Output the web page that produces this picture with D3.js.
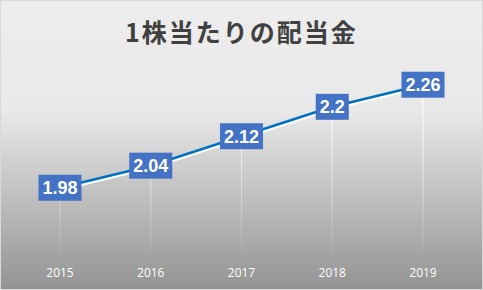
<!DOCTYPE html>
<html>
<head>
<meta charset="utf-8">
<script src="https://cdn.jsdelivr.net/npm/d3@7"></script>
<style>
  html, body { margin: 0; padding: 0; background: #fff; }
  svg { display: block; }
</style>
</head>
<body>
<div id="chart"></div>
<script>
const WIDTH = 483;
const HEIGHT = 290;

// chart data
const years = ["2015", "2016", "2017", "2018", "2019"];
const dividends = [1.98, 2.04, 2.12, 2.2, 2.26];
const labels = ["1.98", "2.04", "2.12", "2.2", "2.26"];
const title = "1株当たりの配当金";

let svg = d3
  .select("#chart")
  .append("svg")
  .attr("width", WIDTH)
  .attr("height", HEIGHT);

let defs = svg.append("defs");

//background gradient
let bg = defs
  .append("linearGradient")
  .attr("id", "bgGrad")
  .attr("x1", 0).attr("y1", 0).attr("x2", 0).attr("y2", 1);
bg.append("stop").attr("offset", "0%").attr("stop-color", "#ededed");
bg.append("stop").attr("offset", "38%").attr("stop-color", "#e9e9e9");
bg.append("stop").attr("offset", "100%").attr("stop-color", "#939393");

//drop line gradient (fades toward bottom)
let dl = defs
  .append("linearGradient")
  .attr("id", "dropGrad")
  .attr("gradientUnits", "userSpaceOnUse")
  .attr("x1", 0).attr("y1", 80).attr("x2", 0).attr("y2", 254);
dl.append("stop").attr("offset", "0%").attr("stop-color", "#ffffff").attr("stop-opacity", 0.95);
dl.append("stop").attr("offset", "100%").attr("stop-color", "#ffffff").attr("stop-opacity", 0.05);

svg
  .append("rect")
  .attr("x", 0.5)
  .attr("y", 0.5)
  .attr("width", WIDTH - 1)
  .attr("height", HEIGHT - 1)
  .attr("fill", "url(#bgGrad)")
  .attr("stroke", "#d9d9d9");

//title
svg
  .append("text")
  .attr("x", WIDTH / 2)
  .attr("y", 42)
  .attr("text-anchor", "middle")
  .attr("fill", "#404040")
  .style("font-family", "'Noto Sans CJK JP', sans-serif")
  .style("font-weight", "bold")
  .style("font-size", "25px")
  .style("letter-spacing", "2px")
  .text(title);

//scales
const x = d3.scalePoint().domain(years).range([60, 423]);
const y = d3.scaleLinear().domain([1.8, 2.3]).range([254, 70]);

const data = years.map((yr, i) => ({ year: yr, value: dividends[i], label: labels[i] }));

//drop lines
svg
  .append("g")
  .selectAll("line")
  .data(data)
  .enter()
  .append("line")
  .attr("x1", (d) => x(d.year))
  .attr("x2", (d) => x(d.year))
  .attr("y1", (d) => y(d.value))
  .attr("y2", 254)
  .attr("stroke", "url(#dropGrad)")
  .attr("stroke-width", 1.2);

//line with white shadow
const line = d3
  .line()
  .x((d) => x(d.year))
  .y((d) => y(d.value));

svg
  .append("path")
  .datum(data)
  .attr("d", line)
  .attr("transform", "translate(-1,2)")
  .attr("fill", "none")
  .attr("stroke", "#ffffff")
  .attr("stroke-width", 3.5);

svg
  .append("path")
  .datum(data)
  .attr("d", line)
  .attr("fill", "none")
  .attr("stroke", "#0070c0")
  .attr("stroke-width", 2.5);

//data labels
let labelGroup = svg
  .append("g")
  .selectAll("g")
  .data(data)
  .enter()
  .append("g")
  .attr("transform", (d) => `translate(${x(d.year)},${y(d.value)})`);

labelGroup
  .append("text")
  .attr("text-anchor", "middle")
  .attr("dy", "0.36em")
  .attr("fill", "#ffffff")
  .style("font-family", "'Liberation Sans Narrow', 'Liberation Sans', sans-serif")
  .style("font-weight", "bold")
  .style("font-size", "18px")
  .text((d) => d.label);

labelGroup.each(function () {
  let g = d3.select(this);
  let bb = g.select("text").node().getBBox();
  g.insert("rect", "text")
    .attr("x", -bb.width / 2 - 4)
    .attr("y", -13)
    .attr("width", bb.width + 8)
    .attr("height", 26)
    .attr("fill", "#4472c4");
});

//year labels
svg
  .append("g")
  .selectAll("text")
  .data(years)
  .enter()
  .append("text")
  .attr("x", (d) => x(d))
  .attr("y", 277)
  .attr("text-anchor", "middle")
  .attr("fill", "#ffffff")
  .style("font-family", "'Open Sans', sans-serif")
  .style("font-size", "12px")
  .text((d) => d);
</script>
</body>
</html>
